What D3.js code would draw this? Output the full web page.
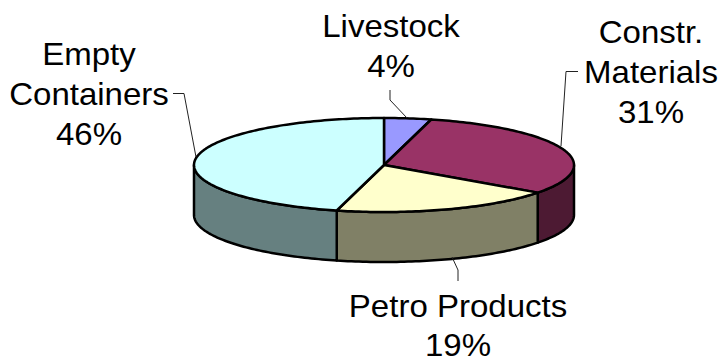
<!DOCTYPE html>
<html>
<head>
<meta charset="utf-8">
<script src="https://cdn.jsdelivr.net/npm/d3@7"></script>
<style>
  html, body { margin: 0; padding: 0; background: #fff; overflow: hidden; }
  text { font-family: "Liberation Sans", Arial, sans-serif; font-size: 31px; fill: #000; text-anchor: middle; }
</style>
</head>
<body>
<div id="chart"></div>
<script>
const categories = ["Livestock", "Constr. Materials", "Petro Products", "Empty Containers"];
const shares = [4, 31, 19, 46];
const topColors = ["#9999ff", "#993366", "#ffffcc", "#ccffff"];
const sideColors = ["#4d4d80", "#4d1a33", "#808066", "#668080"];
const labelLines = [["Livestock", "4%"], ["Constr.", "Materials", "31%"], ["Petro Products", "19%"], ["Empty", "Containers", "46%"]];

const width = 723, height = 358;
const cx = 384, cy = 165, rx = 190, ry = 47, depth = 50;

const svg = d3.select("#chart").append("svg")
    .attr("width", width)
    .attr("height", height);

const pie = d3.pie().sort(null)(shares);

// angle is clockwise from 12 o'clock, like d3.pie
const xAt = (a) => cx + rx * Math.sin(a);
const yAt = (a) => cy - ry * Math.cos(a);
const line = d3.line();

const arcPoints = (a0, a1, dy) => {
    let pts = [];
    const n = Math.max(2, Math.ceil((a1 - a0) / 0.02));
    for (let i = 0; i <= n; i++) {
        let a = a0 + (a1 - a0) * i / n;
        pts.push([xAt(a), yAt(a) + dy]);
    }
    return pts;
}

// side wall, only the front half of the ellipse shows
const right = Math.PI / 2, left = Math.PI * 1.5;
svg.append("g").selectAll("path")
    .data(pie.filter((d) => d.endAngle > right && d.startAngle < left))
    .join("path")
    .attr("d", (d) => {
        let a0 = Math.max(d.startAngle, right), a1 = Math.min(d.endAngle, left);
        return line(arcPoints(a0, a1, 0).concat(arcPoints(a0, a1, depth).reverse())) + "Z";
    })
    .attr("fill", (d) => sideColors[d.index])
    .attr("stroke", "#000")
    .attr("stroke-width", 2.5)
    .attr("stroke-linejoin", "round");

// top face
svg.append("g").selectAll("path")
    .data(pie)
    .join("path")
    .attr("d", (d) => line([[cx, cy]].concat(arcPoints(d.startAngle, d.endAngle, 0))) + "Z")
    .attr("fill", (d) => topColors[d.index])
    .attr("stroke", "#000")
    .attr("stroke-width", 2.5)
    .attr("stroke-linejoin", "round");

// leader lines
const leaders = [
    [[390, 90], [390, 100], [407, 118]],
    [[578, 71.5], [566, 71.5], [561, 146]],
    [[458, 281], [458, 270], [452, 257]],
    [[173, 93.5], [184, 93.5], [196, 157]]
];
svg.append("g").selectAll("path")
    .data(leaders)
    .join("path")
    .attr("d", (d) => line(d))
    .attr("fill", "none")
    .attr("stroke", "#222")
    .attr("stroke-width", 1);

// labels, the original picture is stretched a bit sideways
const labelPos = [[391, 37], [651, 43], [458, 316.5], [89, 65]];
const lineStep = 40;
const labels = svg.append("g").selectAll("text")
    .data(labelLines)
    .join("text")
    .attr("transform", (d, i) => `translate(${labelPos[i][0]},${labelPos[i][1]}) scale(1.065,1)`);
labels.selectAll("tspan")
    .data((d) => d)
    .join("tspan")
    .attr("x", 0)
    .attr("y", (d, i) => i * lineStep)
    .text((d) => d);
</script>
</body>
</html>
